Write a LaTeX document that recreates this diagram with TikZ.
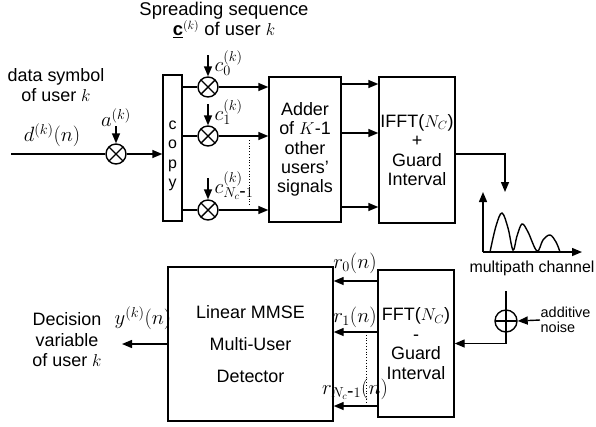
\documentclass[tikz,border=0pt]{standalone}
\usepackage{fontspec}
\setmainfont{Liberation Sans}
\usepackage{tikz}
\usetikzlibrary{positioning}
\usetikzlibrary{calc}
\usetikzlibrary{arrows.meta}
\tikzset{arr/.style={-{Triangle[length=10bp,width=8bp]}}}
\tikzset{blk/.style={draw,line width=1.4bp,inner sep=0pt,align=center}}
\tikzset{mult/.style={draw,circle,line width=1.4bp,minimum size=20bp,inner sep=0pt,
    path picture={\draw (path picture bounding box.north west) -- (path picture bounding box.south east)
                        (path picture bounding box.north east) -- (path picture bounding box.south west);}}}
\tikzset{plus/.style={draw,circle,line width=1.4bp,minimum size=22bp,inner sep=0pt,
    path picture={\draw (path picture bounding box.north) -- (path picture bounding box.south)
                        (path picture bounding box.east) -- (path picture bounding box.west);}}}
\tikzset{txt/.style={align=center,inner sep=0pt,font=\fontsize{18}{19.5}\selectfont}}
\tikzset{mlbl/.style={inner sep=0pt,font=\fontsize{19.5}{21}\selectfont}}
\tikzset{small/.style={align=left,inner sep=0pt,font=\fontsize{14.5}{15}\selectfont}}

\begin{document}
\begin{tikzpicture}[x=1bp,y=-1bp,line width=1.4bp]
            \useasboundingbox (0,0) rectangle (596,426);

            \node (cp)   [blk,minimum width=19bp,minimum height=146bp]  at (172.5,148) {};
            \node (cpt)  [txt,font=\fontsize{16}{19.5}\selectfont]   at (172.5,156) {c\\o\\p\\y};
            \node (ma)   [mult]                                       at (116,154)   {};
            \node (m0)   [mult]                                       at (208,87)    {};
            \node (m1)   [mult]                                       at (208,136)   {};
            \node (m2)   [mult]                                       at (208,210)   {};
            \node (add)  [blk,txt,minimum width=72bp,minimum height=145bp] at (305,149.5) {Adder\\of $K$-1\\other\\users’\\signals};
            \node (ifft) [blk,txt,minimum width=76bp,minimum height=146bp] at (417,150)   {IFFT($N_C$)\\+\\Guard\\Interval};

            \node (spr)  [txt,font=\fontsize{18.5}{19.5}\selectfont] at (224,20) {Spreading sequence\\$\underline{\mathbf{c}}^{(k)}$ of user $k$};
            \node (dsym) [txt]                    at (56,85)   {data symbol\\of user $k$};
            \node (dlbl) [mlbl]                   at (52,135)  {$d^{(k)}(n)$};
            \node (albl) [mlbl,above=16bp of ma]              {$a^{(k)}$};
            \node (c0)   [mlbl,anchor=west]       at (214,63)  {$c_0^{(k)}$};
            \node (c1)   [mlbl,anchor=west]       at (214,112) {$c_1^{(k)}$};
            \node (c2)   [mlbl,anchor=west]       at (214,186) {$c_{N_c\mbox{-}1}^{(k)}$};

            \coordinate (din) at (11,154);
            \draw (din) -- (ma);
            \draw[arr] (ma) -- (cp.west |- ma);
            \draw[arr] ([yshift=17bp]ma.north) -- (ma.north);
            \foreach \m in {m0,m1,m2} {
                \draw (cp.east |- \m) -- (\m);
                \draw[arr] ([yshift=21bp]\m.north) -- (\m.north);
                \draw[arr] (\m) -- (add.west |- \m);
                \draw[arr] ([yshift=3bp]add.east |- \m) -- ([yshift=3bp]ifft.west |- \m);
            }
            \draw[dotted,line width=0.8bp] (249,140) -- (249,205);

            \coordinate (chin) at (505,192);
            \draw[arr] ([yshift=-4bp]ifft.east) -| (chin);
            \coordinate (ch) at (483,252);
            \draw[arr] (ch) -- ++(0,-60);
            \draw[arr] (ch) -- ++(99,0);
            \draw plot[smooth,tension=0.6] coordinates {(490,252) (496,226) (502,213) (508,228) (513,250)
                (517,236) (522,224) (528,232) (537,251) (543,240) (550,235) (556,242) (560,252)};
            \node (chl) [txt,font=\fontsize{16}{18}\selectfont] at (532,268) {multipath channel};

            \node (fft)  [blk,txt,minimum width=76bp,minimum height=147bp]  at (416,343.5) {FFT($N_C$)\\-\\Guard\\Interval};
            \node (det)  [blk,txt,font=\fontsize{18}{32}\selectfont,minimum width=165bp,minimum height=154bp] at (250.5,344) {Linear MMSE\\Multi-User\\Detector};
            \node (sum)  [plus]                   at (506,321) {};
            \node (nz)   [small,anchor=west]      at (540,320) {additive\\noise};
            \node (dec)  [txt,font=\fontsize{18}{20.5}\selectfont] at (67,340) {Decision\\variable\\of user $k$};
            \node (ylbl) [mlbl]                   at (143,318) {$y^{(k)}(n)$};
            \node (r0)   [mlbl]                   at (355,263) {$r_0(n)$};
            \node (r1)   [mlbl]                   at (355,317) {$r_1(n)$};
            \node (r2)   [mlbl]                   at (355,389) {$r_{N_c\mbox{-}1}(n)$};

            \coordinate (chout) at (506,291);
            \draw[arr] (chout) |- (fft.east);
            \draw[arr] (nz.west) -- (sum.east);
            \foreach \s in {62.5,11.5,-62.5} {
                \draw[arr] ([yshift=\s bp]fft.west) -- ([yshift=\s bp]fft.west -| det.east);
            }
            \draw[dotted,line width=0.8bp] (366,332) -- (366,403);
            \coordinate (yout) at (122,344);
            \draw[arr] (det.west) -- (yout);
        \end{tikzpicture}
\end{document}
